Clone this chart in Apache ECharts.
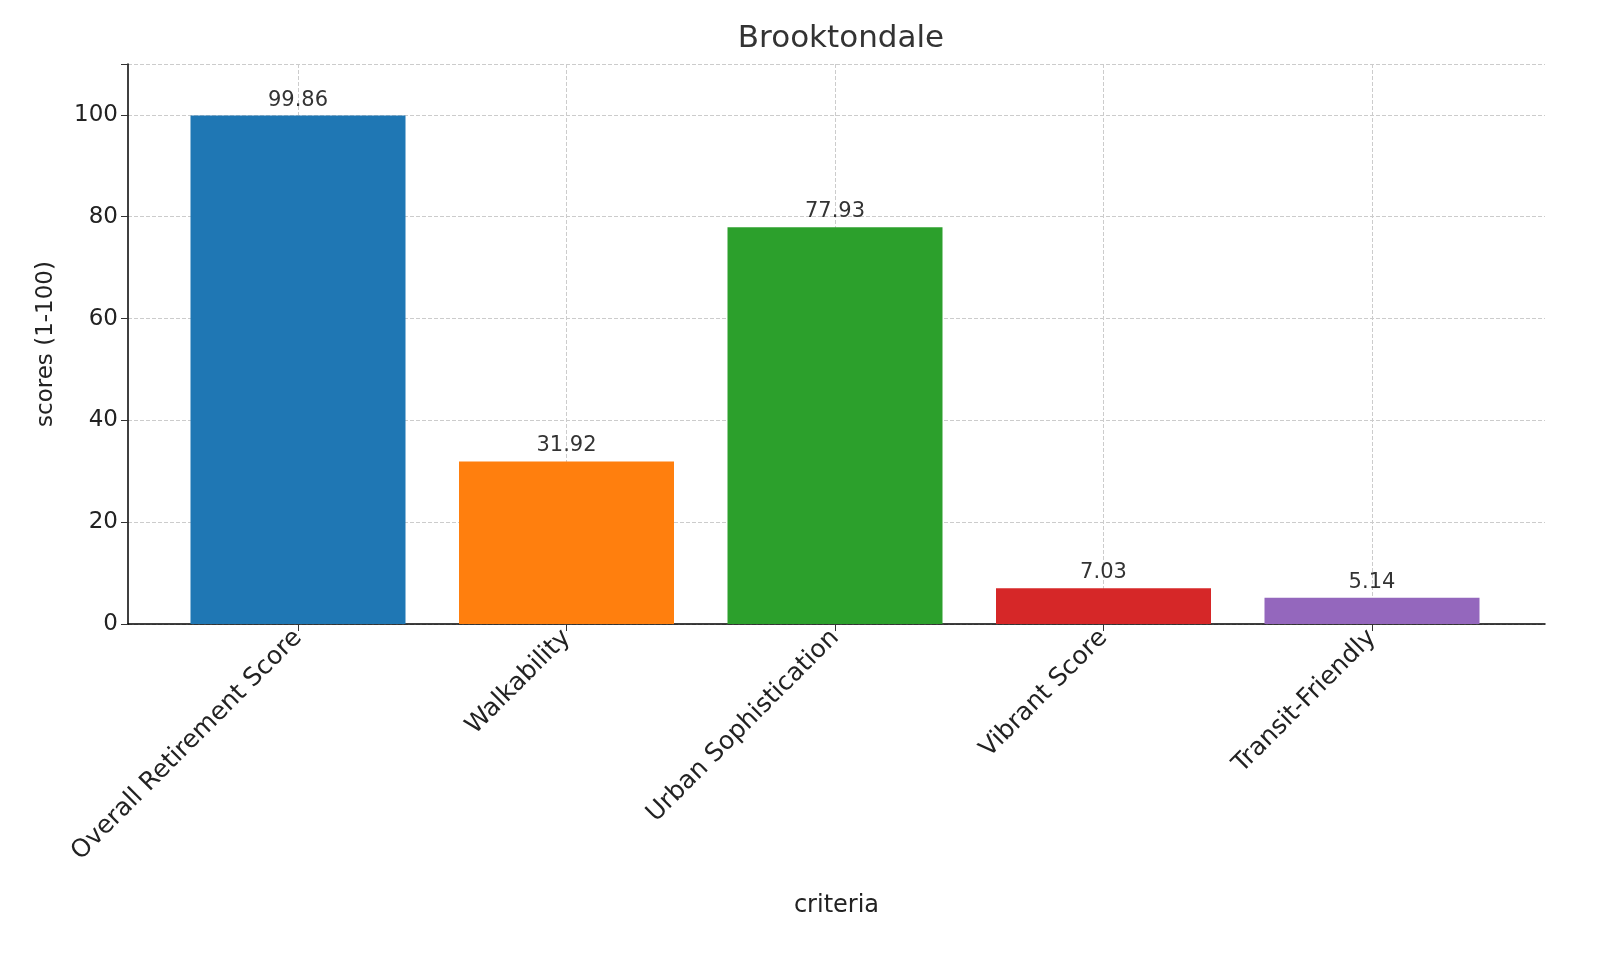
<!DOCTYPE html>
<html><head><meta charset="utf-8">
<script src="https://cdn.jsdelivr.net/npm/echarts@6/dist/echarts.min.js"></script>
<style>html,body{margin:0;background:#fff}#c{width:1600px;height:960px}</style>
</head><body><div id="c"></div>
<script>
const categories = ["Overall Retirement Score","Walkability","Urban Sophistication","Vibrant Score","Transit-Friendly"];
const values = [99.86,31.92,77.93,7.03,5.14];
const colors = ["#1f77b4","#ff7f0e","#2ca02c","#d62728","#9467bd"];
const yTicks = [0,20,40,60,80,100];
const font = "DejaVu Sans";
const chart = echarts.init(document.getElementById('c'));
chart.setOption({
  animation:false,
  textStyle:{fontFamily:font},
  title:{text:"Brooktondale",left:836,textAlign:'center',top:18,textStyle:{fontSize:31,fontWeight:'normal',color:'#333',fontFamily:font}},
  grid:[{left:128,right:55,top:64,bottom:336},{left:298,right:228,top:64,bottom:336}],
  xAxis:[
    {gridIndex:0,type:'value',min:0,max:1,axisLine:{show:true,onZero:false,lineStyle:{color:'#000',width:1.5}},axisTick:{show:false},axisLabel:{show:false},splitLine:{show:false},
     name:'criteria',nameLocation:'middle',nameGap:270,nameTextStyle:{fontSize:24,color:'#222'}},
    {gridIndex:1,type:'category',data:categories,boundaryGap:false,axisLine:{show:false},
     axisTick:{show:true,length:7,lineStyle:{color:'#333'}},
     axisLabel:{rotate:45,fontSize:25,color:'#222',margin:10,interval:0},
     splitLine:{show:true,lineStyle:{type:'dashed',color:'#ccc'}}}
  ],
  yAxis:[
    {gridIndex:0,type:'value',min:0,max:110,interval:20,
     axisLabel:{fontSize:23,color:'#222',margin:10,formatter:v=>yTicks.includes(v)?String(v):''},
     axisLine:{show:true,lineStyle:{color:'#000',width:1.5}},axisTick:{show:true,length:7,lineStyle:{color:'#333'}},
     splitLine:{show:true,lineStyle:{type:'dashed',color:'#ccc'}},
     name:'scores (1-100)',nameLocation:'middle',nameGap:70,nameTextStyle:{fontSize:23,color:'#222'}},
    {gridIndex:1,type:'value',min:0,max:110,show:false}
  ],
  series:[{type:'bar',xAxisIndex:1,yAxisIndex:1,barWidth:215,clip:false,z:1,
    data:values.map((v,i)=>({value:v,itemStyle:{color:colors[i]}})),
    label:{show:true,position:'top',fontSize:21,color:'#333',distance:5,formatter:p=>p.value.toFixed(2)}}]
});
</script></body></html>
